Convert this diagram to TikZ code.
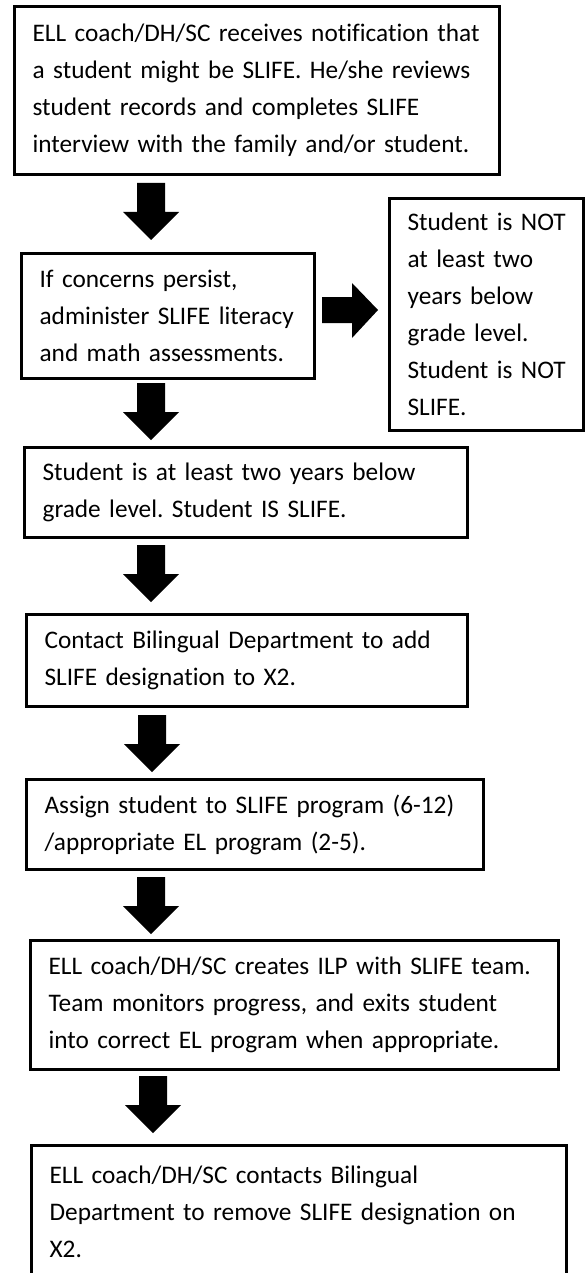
\documentclass[tikz,border=0pt]{standalone}
\usepackage{fontspec}
\setmainfont{Carlito}[Ligatures=NoCommon]
\frenchspacing
\tikzset{
  flowbox/.style={draw=black, line width=3.2pt, rectangle, anchor=north west,
    inner xsep=18pt, inner ysep=0pt, align=left,
    font=\fontsize{25.3}{37}\selectfont},
  downarr/.pic={\fill[black] (-14,0) -- (14,0) -- (14,29) -- (28,29) -- (0,57) -- (-28,29) -- (-14,29) -- cycle;},
  rightarr/.pic={\fill[black] (0,-13) -- (30,-13) -- (30,-27) -- (56,0) -- (30,28) -- (30,13) -- (0,13) -- cycle;}
}
\begin{document}
\begin{tikzpicture}[x=1pt,y=-1pt]
\useasboundingbox[fill=white] (0,0) rectangle (584,1273);

\node[flowbox, minimum width=485pt, minimum height=168pt, text width=449pt] (b1) at (13,5)
 {\mbox{ELL coach/DH/SC receives notification that}\\\mbox{a student might be SLIFE. He/she reviews}\\\mbox{student records and completes SLIFE}\\\mbox{interview with the family and/or student.}};

\node[flowbox, minimum width=293pt, minimum height=125pt, text width=257pt] (b2) at (20,252)
 {\mbox{If concerns persist,}\\\mbox{administer SLIFE literacy}\\\mbox{and math assessments.}};

\node[flowbox, minimum width=194pt, minimum height=232pt, text width=158pt] (b3) at (388,197)
 {\mbox{Student is NOT}\\\mbox{at least two}\\\mbox{years below}\\\mbox{grade level.}\\\mbox{Student is NOT}\\\mbox{SLIFE.}};

\node[flowbox, minimum width=443pt, minimum height=90pt, text width=407pt] (b4) at (23,446)
 {\mbox{Student is at least two years below}\\\mbox{grade level. Student IS SLIFE.}};

\node[flowbox, minimum width=441pt, minimum height=92pt, text width=405pt] (b5) at (25,613)
 {\mbox{Contact Bilingual Department to add}\\\mbox{SLIFE designation to X2.}};

\node[flowbox, minimum width=457pt, minimum height=90pt, text width=421pt] (b6) at (25,778)
 {\mbox{Assign student to SLIFE program (6-12)}\\\mbox{/appropriate EL program (2-5).}};

\node[flowbox, minimum width=528pt, minimum height=129pt, text width=492pt] (b7) at (29,939)
 {\mbox{ELL coach/DH/SC creates ILP with SLIFE team.}\\\mbox{Team monitors progress, and exits student}\\\mbox{into correct EL program when appropriate.}};

\node[flowbox, minimum width=535pt, minimum height=132pt, text width=499pt] (b8) at (30,1144)
 {\mbox{ELL coach/DH/SC contacts Bilingual}\\\mbox{Department to remove SLIFE designation on}\\\mbox{X2.}};

\coordinate (a1) at (151,183);
\coordinate (a2) at (151,383);
\coordinate (a3) at (151,545);
\coordinate (a4) at (152,715);
\coordinate (a5) at (151,877);
\coordinate (a6) at (153,1076);
\coordinate (ar) at (322,310);

\pic at (a1) {downarr};
\pic at (a2) {downarr};
\pic at (a3) {downarr};
\pic at (a4) {downarr};
\pic at (a5) {downarr};
\pic at (a6) {downarr};
\pic at (ar) {rightarr};
\end{tikzpicture}
\end{document}
